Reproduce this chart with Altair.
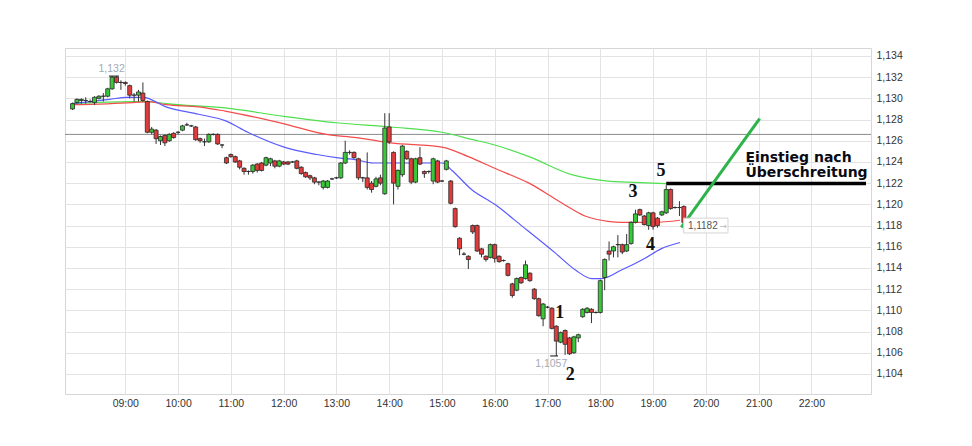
import altair as alt
import pandas as pd

# ---- candle data (5-minute candles, 08:00 .. 19:35) ----
opens = [
1.1290,1.1296,1.1298,1.1298,1.1297,1.1296,1.1300,1.1302,1.1302,1.1309,
1.1320,1.1315,1.1315,1.1312,1.1303,1.1303,1.1305,1.1297,1.1268,1.1270,
1.1260,1.1265,1.1260,1.1267,1.1268,1.1270,1.1275,1.1274,1.1273,1.1262,
1.1259,1.1259,1.1266,1.1266,1.1256,1.1244,1.1247,1.1245,1.1241,1.1234,
1.1231,1.1231,1.1238,1.1239,1.1237,1.1239,1.1241,1.1236,1.1240,1.1240,
1.1240,1.1241,1.1235,1.1230,1.1227,1.1225,1.1221,1.1216,1.1216,1.1224,
1.1225,1.1225,1.1239,1.1249,1.1249,1.1243,1.1225,1.1225,1.1220,1.1217,
1.1225,1.1210,1.1273,1.1249,1.1217,1.1228,1.1250,1.1243,1.1221,1.1244,
1.1231,1.1231,1.1222,1.1241,1.1222,1.1233,1.1222,1.1196,1.1168,1.1153,
1.1151,1.1180,1.1180,1.1158,1.1151,1.1150,1.1162,1.1151,1.1147,1.1144,
1.1125,1.1119,1.1131,1.1130,1.1135,1.1120,1.1111,1.1092,1.1103,1.1102,
1.1085,1.1070,1.1081,1.1074,1.1060,1.1074,1.1094,1.1098,1.1101,1.1098,
1.1098,1.1131,1.1156,1.1156,1.1162,1.1162,1.1156,1.1163,1.1183,1.1195,
1.1189,1.1180,1.1192,1.1187,1.1190,1.1192,1.1214,1.1197,1.1197,1.1198,
]
closes = [
1.1295,1.1299,1.1299,1.1298,1.1297,1.1301,1.1302,1.1302,1.1309,1.1320,
1.1315,1.1315,1.1314,1.1303,1.1303,1.1306,1.1298,1.1268,1.1271,1.1262,
1.1264,1.1258,1.1266,1.1263,1.1268,1.1274,1.1275,1.1274,1.1261,1.1260,
1.1259,1.1266,1.1266,1.1257,1.1256,1.1239,1.1245,1.1240,1.1235,1.1231,
1.1231,1.1237,1.1232,1.1232,1.1244,1.1243,1.1236,1.1241,1.1238,1.1238,
1.1240,1.1234,1.1229,1.1226,1.1225,1.1221,1.1221,1.1222,1.1222,1.1224,
1.1225,1.1239,1.1249,1.1249,1.1244,1.1225,1.1225,1.1216,1.1214,1.1224,
1.1220,1.1272,1.1259,1.1220,1.1232,1.1255,1.1243,1.1221,1.1243,1.1238,
1.1229,1.1231,1.1243,1.1221,1.1222,1.1241,1.1201,1.1179,1.1158,1.1153,
1.1148,1.1174,1.1156,1.1153,1.1148,1.1162,1.1149,1.1146,1.1147,1.1133,
1.1114,1.1130,1.1126,1.1143,1.1128,1.1111,1.1095,1.1106,1.1103,1.1083,
1.1071,1.1079,1.1068,1.1059,1.1075,1.1077,1.1101,1.1102,1.1098,1.1098,
1.1128,1.1148,1.1153,1.1160,1.1162,1.1155,1.1162,1.1183,1.1191,1.1190,
1.1181,1.1192,1.1179,1.1180,1.1193,1.1214,1.1196,1.1197,1.1197,1.1183,
]
highs = [
1.1296,1.1300,1.1300,1.1301,1.1299,1.1302,1.1303,1.1305,1.1310,1.1321,
1.1321,1.1317,1.1316,1.1313,1.1305,1.1308,1.1315,1.1298,1.1273,1.1271,
1.1265,1.1266,1.1267,1.1268,1.1269,1.1275,1.1277,1.1275,1.1274,1.1263,
1.1262,1.1267,1.1267,1.1267,1.1257,1.1245,1.1248,1.1246,1.1242,1.1235,
1.1232,1.1238,1.1239,1.1240,1.1245,1.1244,1.1242,1.1242,1.1241,1.1241,
1.1241,1.1242,1.1236,1.1231,1.1228,1.1226,1.1222,1.1223,1.1223,1.1225,
1.1226,1.1240,1.1260,1.1251,1.1250,1.1244,1.1226,1.1249,1.1222,1.1226,
1.1228,1.1286,1.1286,1.1250,1.1233,1.1256,1.1251,1.1244,1.1244,1.1254,
1.1232,1.1232,1.1244,1.1242,1.1223,1.1242,1.1223,1.1197,1.1169,1.1155,
1.1152,1.1181,1.1181,1.1159,1.1152,1.1163,1.1163,1.1152,1.1148,1.1145,
1.1126,1.1131,1.1132,1.1147,1.1136,1.1121,1.1112,1.1107,1.1104,1.1103,
1.1086,1.1080,1.1082,1.1075,1.1076,1.1078,1.1102,1.1103,1.1102,1.1099,
1.1129,1.1149,1.1165,1.1161,1.1171,1.1163,1.1172,1.1184,1.1195,1.1196,
1.1190,1.1193,1.1193,1.1188,1.1194,1.1218,1.1215,1.1198,1.1203,1.1199,
]
lows = [
1.1289,1.1295,1.1295,1.1295,1.1296,1.1294,1.1299,1.1297,1.1301,1.1308,
1.1314,1.1308,1.1312,1.1300,1.1297,1.1297,1.1297,1.1267,1.1266,1.1257,
1.1256,1.1255,1.1259,1.1262,1.1266,1.1269,1.1274,1.1273,1.1260,1.1258,
1.1255,1.1258,1.1265,1.1256,1.1253,1.1238,1.1244,1.1239,1.1233,1.1228,
1.1228,1.1229,1.1230,1.1231,1.1236,1.1236,1.1234,1.1235,1.1237,1.1237,
1.1239,1.1233,1.1228,1.1225,1.1223,1.1219,1.1218,1.1214,1.1215,1.1223,
1.1224,1.1224,1.1238,1.1247,1.1243,1.1223,1.1221,1.1214,1.1211,1.1216,
1.1218,1.1209,1.1257,1.1200,1.1214,1.1226,1.1242,1.1219,1.1220,1.1237,
1.1225,1.1229,1.1219,1.1220,1.1221,1.1232,1.1200,1.1178,1.1152,1.1152,
1.1139,1.1172,1.1155,1.1150,1.1146,1.1149,1.1145,1.1145,1.1146,1.1132,
1.1112,1.1118,1.1125,1.1129,1.1127,1.1110,1.1094,1.1085,1.1102,1.1082,
1.1057,1.1069,1.1058,1.1058,1.1059,1.1070,1.1093,1.1097,1.1088,1.1097,
1.1097,1.1119,1.1147,1.1150,1.1150,1.1153,1.1155,1.1162,1.1182,1.1189,
1.1180,1.1176,1.1176,1.1178,1.1189,1.1191,1.1195,1.1196,1.1189,1.1182,
]
start_hour = 8.0
step_minutes = 5

# ---- moving averages, time in hours ----
blue_t = [7.98, 8.70, 9.02, 9.34, 9.77, 10.39, 10.89, 11.32, 12.01, 12.63, 13.00, 13.38,
          13.69, 14.00, 15.01, 15.19, 15.56, 16.00, 16.53, 17.15, 17.53, 17.84, 18.03,
          18.40, 18.84, 19.15, 19.51]
blue_v = [1.1295, 1.1299, 1.1301, 1.1301, 1.1292, 1.1285, 1.1279, 1.1268, 1.1254, 1.1247,
          1.1244, 1.1242, 1.1239, 1.1239, 1.1239, 1.1232, 1.1214, 1.1200, 1.1179, 1.1154,
          1.1138, 1.1130, 1.1130, 1.1138, 1.1149, 1.1158, 1.1164]
red_t = [7.98, 9.14, 9.45, 9.77, 10.39, 10.89, 12.01, 12.81, 13.38, 14.03, 15.00, 15.50,
         16.00, 16.65, 17.28, 17.71, 18.15, 18.40, 19.02, 19.51]
red_v = [1.1294, 1.1296, 1.1297, 1.1294, 1.1292, 1.1288, 1.1276, 1.1266, 1.1263, 1.1258,
         1.1254, 1.1245, 1.1234, 1.1220, 1.1201, 1.1189, 1.1184, 1.1183, 1.1183, 1.1185]
green_t = [7.98, 9.14, 9.45, 9.77, 10.89, 12.01, 13.00, 14.03, 15.00, 15.59, 16.00, 16.65,
           17.46, 18.15, 18.52, 19.46]
green_v = [1.1295, 1.1297, 1.1297, 1.1295, 1.1291, 1.1283, 1.1277, 1.1273, 1.1268, 1.1261,
           1.1256, 1.1245, 1.1228, 1.1222, 1.1221, 1.1219]

prev_close = 1.1266
hour_ticks = list(range(9, 23))
price_ticks = [1.104, 1.106, 1.108, 1.110, 1.112, 1.114, 1.116, 1.118, 1.120,
               1.122, 1.124, 1.126, 1.128, 1.130, 1.132, 1.134]

# annotations
num_labels = ["1", "2", "3", "4", "5"]
num_t = [17.23, 17.43, 18.62, 18.95, 19.15]
num_p = [1.10973, 1.10391, 1.12120, 1.11617, 1.12318]
extreme_labels = ["1,132", "1,1057"]
extreme_t = [8.74, 17.07]
extreme_p = [1.13277, 1.10494]
note_lines = ["Einstieg nach", "Überschreitung"]
note_t = [20.75, 20.75]
note_p = [1.12403, 1.12256]
trigger_level = 1.12197
trigger_start = 19.25
arrow_t = [19.535, 21.02]
arrow_p = [1.11784, 1.12809]
last_price_text = "1,1182"

X_DOM = [7.952, 23.035]
Y_DOM = [1.10211, 1.13475]
GREEN = "#38c838"
RED = "#e23b3b"

candles = pd.DataFrame({
    "t": [start_hour + i * step_minutes / 60 for i in range(len(opens))],
    "o": opens, "h": highs, "l": lows, "c": closes,
})
candles["dir"] = ["up" if c >= o else "down" for o, c in zip(opens, closes)]

xs = alt.Scale(domain=X_DOM, nice=False, zero=False)
ys = alt.Scale(domain=Y_DOM, nice=False, zero=False)

XAXIS = alt.Axis(values=hour_ticks, grid=True, ticks=False, domain=False,
                 labelExpr="(datum.value < 10 ? '0' : '') + datum.value + ':00'",
                 labelPadding=4, labelFlush=False, labelOverlap=False)
YAXIS = alt.Axis(orient="right", values=price_ticks, grid=True, ticks=False,
                 domain=False, labelPadding=5, labelOverlap=False, labelFlush=False,
                 labelExpr="replace(format(datum.value, '.3f'), '.', ',')")


def X(field):
    return alt.X(f"{field}:Q", scale=xs, axis=XAXIS, title=None)


def Y(field):
    return alt.Y(f"{field}:Q", scale=ys, axis=YAXIS, title=None)


prev_line = alt.Chart(pd.DataFrame({"p": [prev_close]})).mark_rule(
    color="#8a8a8a", strokeWidth=1).encode(y=Y("p"))


def ma(ts, vs, color):
    return alt.Chart(pd.DataFrame({"t": ts, "p": vs})).mark_line(
        color=color, strokeWidth=1.2, interpolate="monotone").encode(x=X("t"), y=Y("p"))


ma_green = ma(green_t, green_v, "#4ee04e")
ma_red = ma(red_t, red_v, "#f24c4c")
ma_blue = ma(blue_t, blue_v, "#5a5aff")

wicks = alt.Chart(candles).mark_rule(color="#333333", strokeWidth=1).encode(
    x=X("t"), y=Y("l"), y2="h:Q")
bodies = alt.Chart(candles).mark_bar(size=4, stroke="#2a2a2a", strokeWidth=0.8).encode(
    x=X("t"), y=Y("o"), y2="c:Q",
    color=alt.Color("dir:N", scale=alt.Scale(domain=["up", "down"], range=[GREEN, RED]),
                    legend=None))

# extreme markers (short black ticks at high and low)
ext_ticks = alt.Chart(pd.DataFrame({"t": [8.69, 17.05], "t2": [8.88, 17.20],
                                    "p": [1.1321, 1.1057]})).mark_rule(
    color="#111", strokeWidth=1).encode(x=X("t"), x2="t2:Q", y=Y("p"))
ext_text = alt.Chart(pd.DataFrame({"t": extreme_t, "p": extreme_p, "s": extreme_labels})).mark_text(
    font="Liberation Sans", fontSize=10.5, color="#a4aab4", align="center", baseline="middle").encode(
    x=X("t"), y=Y("p"), text="s:N")

trigger = alt.Chart(pd.DataFrame({"t": [trigger_start], "t2": [X_DOM[1]], "p": [trigger_level]})).mark_rule(
    color="#000000", strokeWidth=3.5).encode(x=X("t"), x2="t2:Q", y=Y("p"))
arrow = alt.Chart(pd.DataFrame({"t": arrow_t, "p": arrow_p})).mark_line(
    color="#2db34a", strokeWidth=3).encode(x=X("t"), y=Y("p"))

nums = alt.Chart(pd.DataFrame({"t": num_t, "p": num_p, "s": num_labels})).mark_text(
    font="Liberation Serif", fontSize=18, fontWeight="bold", color="#111",
    align="center", baseline="middle").encode(x=X("t"), y=Y("p"), text="s:N")

note = alt.Chart(pd.DataFrame({"t": note_t, "p": note_p, "s": note_lines})).mark_text(
    font="DejaVu Sans", fontSize=14, fontWeight="bold", color="#0a0a14",
    align="left", baseline="alphabetic").encode(x=X("t"), y=Y("p"), text="s:N")

price_box = alt.Chart(pd.DataFrame({"t": [19.58], "t2": [20.42], "p": [1.1187], "p2": [1.1173]})).mark_rect(
    fill="white", stroke="#d4d4d4", strokeWidth=1).encode(
    x=X("t"), x2="t2:Q", y=Y("p"), y2="p2:Q")
price_txt = alt.Chart(pd.DataFrame({"t": [19.66], "p": [1.1180], "s": [last_price_text]})).mark_text(
    font="Liberation Sans", fontSize=10, color="#555", align="left", baseline="middle").encode(
    x=X("t"), y=Y("p"), text="s:N")
price_arrow = alt.Chart(pd.DataFrame({"t": [20.33], "p": [1.1180], "s": ["→"]})).mark_text(
    font="DejaVu Sans", fontSize=9, color="#bbbbbb", align="center", baseline="middle").encode(
    x=X("t"), y=Y("p"), text="s:N")

chart = alt.layer(
    prev_line, ma_green, ma_red, ma_blue, wicks, bodies,
    ext_ticks, ext_text, trigger, arrow, nums, note, price_box, price_txt, price_arrow
).properties(
    width=806, height=346,
    padding={"left": 57, "top": 40, "right": 90, "bottom": 40},
    autosize=alt.AutoSizeParams(type="none"),
    background="white",
).configure_view(
    stroke="#d6d6d6", strokeWidth=1
).configure_axis(
    gridColor="#e3e3e3", gridWidth=1, labelFont="Liberation Sans", labelFontSize=10.5,
    labelColor="#333333"
)

chart.save("out.html", embed_options={"renderer": "svg", "actions": False})
